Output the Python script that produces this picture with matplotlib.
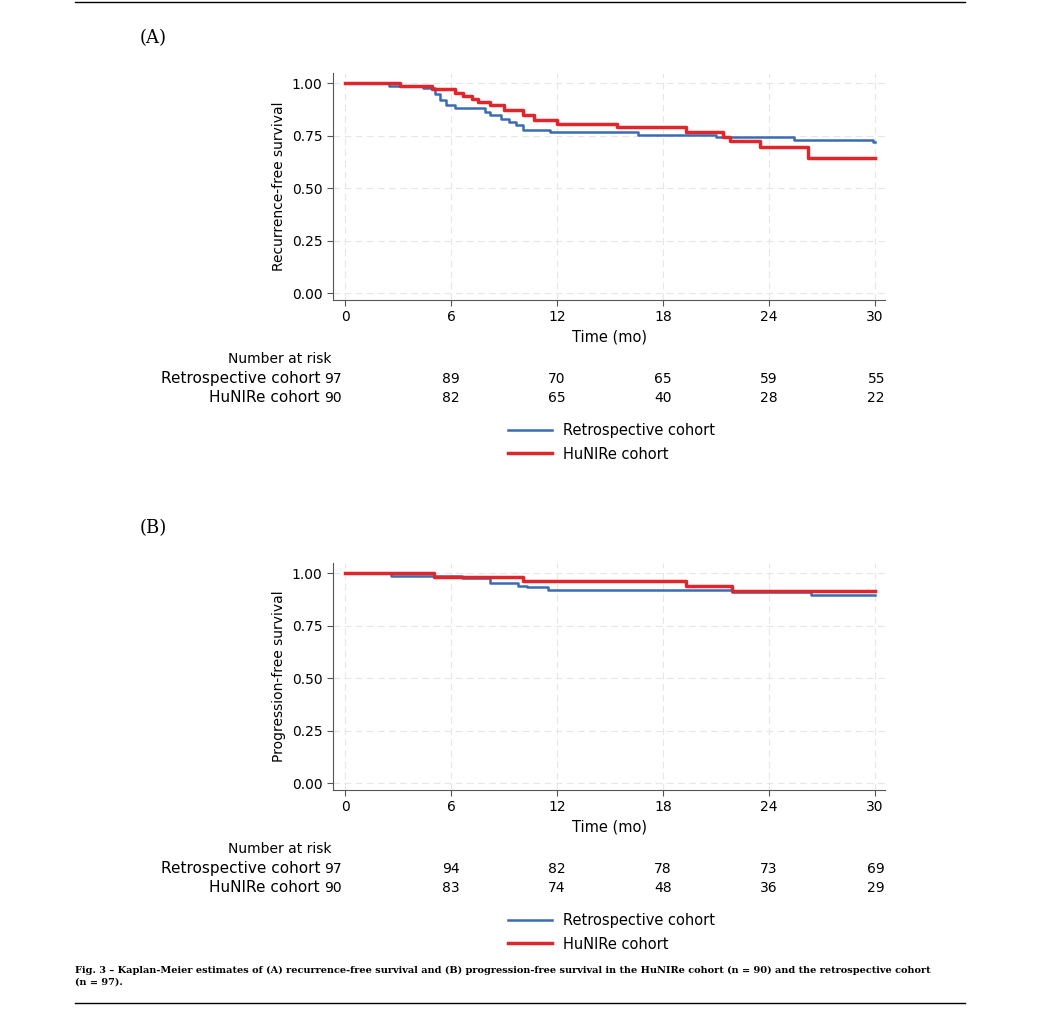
import matplotlib
matplotlib.use("Agg")
import matplotlib.pyplot as plt
from matplotlib.lines import Line2D

# Panel A: recurrence-free survival (step times / values)
a_retro_t = [0, 2.5, 4.4, 5.1, 5.4, 5.7, 6.2, 7.9, 8.2, 8.8, 9.3, 9.7, 10.1, 11.6, 16.6, 21.0, 25.4, 29.9, 30]
a_retro_s = [1.0, 0.987, 0.976, 0.95, 0.92, 0.895, 0.879, 0.863, 0.847, 0.831, 0.815, 0.798, 0.777, 0.766, 0.755, 0.742, 0.729, 0.718, 0.718]
a_hun_t = [0, 3.1, 4.9, 6.2, 6.7, 7.2, 7.5, 8.2, 9.0, 10.1, 10.7, 12.0, 15.4, 19.3, 21.4, 21.8, 23.5, 26.2, 30]
a_hun_s = [1.0, 0.984, 0.971, 0.955, 0.939, 0.925, 0.911, 0.895, 0.871, 0.847, 0.823, 0.806, 0.79, 0.766, 0.745, 0.723, 0.697, 0.642, 0.642]
# Panel B: progression-free survival
b_retro_t = [0, 2.6, 6.6, 8.2, 9.8, 10.3, 11.5, 21.9, 26.4, 30]
b_retro_s = [1.0, 0.988, 0.978, 0.953, 0.94, 0.932, 0.919, 0.912, 0.894, 0.894]
b_hun_t = [0, 5.05, 10.1, 19.3, 21.9, 30]
b_hun_s = [1.0, 0.983, 0.963, 0.937, 0.913, 0.913]

times = [0, 6, 12, 18, 24, 30]
a_risk_retro = [97, 89, 70, 65, 59, 55]
a_risk_hun = [90, 82, 65, 40, 28, 22]
b_risk_retro = [97, 94, 82, 78, 73, 69]
b_risk_hun = [90, 83, 74, 48, 36, 29]

BLUE = "#3a6bb5"
RED = "#e0252b"
W, H = 1050, 1028
fig = plt.figure(figsize=(10.5, 10.28), dpi=100)

def fx(px): return px / W
def fy(py): return 1 - py / H

def panel(top_px, label, ylabel, rt, rs, ht, hs, rr, rh):
    ax = fig.add_axes([fx(333), fy(top_px + 227), fx(552), 227 / H])
    ax.step(rt, rs, where="post", color=BLUE, lw=1.8)
    ax.step(ht, hs, where="post", color=RED, lw=2.5)
    ax.set_xlim(-0.68, 30.56)
    ax.set_ylim(-0.033, 1.048)
    ax.set_xticks(times)
    ax.set_yticks([0, 0.25, 0.5, 0.75, 1.0])
    ax.set_yticklabels(["0.00", "0.25", "0.50", "0.75", "1.00"])
    for s in ["top", "right"]:
        ax.spines[s].set_visible(False)
    for s in ["left", "bottom"]:
        ax.spines[s].set_color("#555555")
    ax.grid(True, ls=(0, (6, 4)), color="#e6e6e6", lw=0.8)
    ax.tick_params(labelsize=10, length=4, color="#555555")
    ax.set_ylabel(ylabel, fontsize=10)
    ax.set_xlabel("Time (mo)", fontsize=10.5)
    fig.text(fx(140), fy(top_px - 35), label, family="DejaVu Serif", fontsize=13, va="center")
    base = top_px + 306
    fig.text(fx(332), fy(base - 20), "Number at risk", ha="right", fontsize=10, va="center")
    fig.text(fx(320), fy(base), "Retrospective cohort", ha="right", fontsize=11, va="center")
    fig.text(fx(320), fy(base + 19), "HuNIRe cohort", ha="right", fontsize=11, va="center")
    for t, a, b in zip(times, rr, rh):
        xp = 345 + t * 17.67
        ha = "left" if t == 0 else ("right" if t == 30 else "center")
        if t == 0: xp = 324
        if t == 30: xp = 885
        fig.text(fx(xp), fy(base), str(a), ha=ha, fontsize=10, va="center")
        fig.text(fx(xp), fy(base + 19), str(b), ha=ha, fontsize=10, va="center")
    handles = [Line2D([], [], color=BLUE, lw=1.8), Line2D([], [], color=RED, lw=2.5)]
    fig.legend(handles, ["Retrospective cohort", "HuNIRe cohort"], loc="upper left",
               bbox_to_anchor=(fx(502), fy(base + 38)), frameon=False, fontsize=10.5,
               handlelength=3.0, labelspacing=0.6, borderaxespad=0)

panel(73, "(A)", "Recurrence-free survival", a_retro_t, a_retro_s, a_hun_t, a_hun_s, a_risk_retro, a_risk_hun)
panel(563, "(B)", "Progression-free survival", b_retro_t, b_retro_s, b_hun_t, b_hun_s, b_risk_retro, b_risk_hun)

fig.add_artist(Line2D([fx(75), fx(965)], [fy(2), fy(2)], color="black", lw=1))
fig.add_artist(Line2D([fx(75), fx(965)], [fy(1003), fy(1003)], color="black", lw=1))
fig.text(fx(75), fy(966), "Fig. 3 \u2013 Kaplan-Meier estimates of (A) recurrence-free survival and (B) progression-free survival in the HuNIRe cohort (n = 90) and the retrospective cohort\n(n = 97).",
         family="DejaVu Serif", fontsize=7.0, fontweight="bold", va="top", linespacing=1.3)

fig.savefig("out.png", dpi=100, facecolor="white")
